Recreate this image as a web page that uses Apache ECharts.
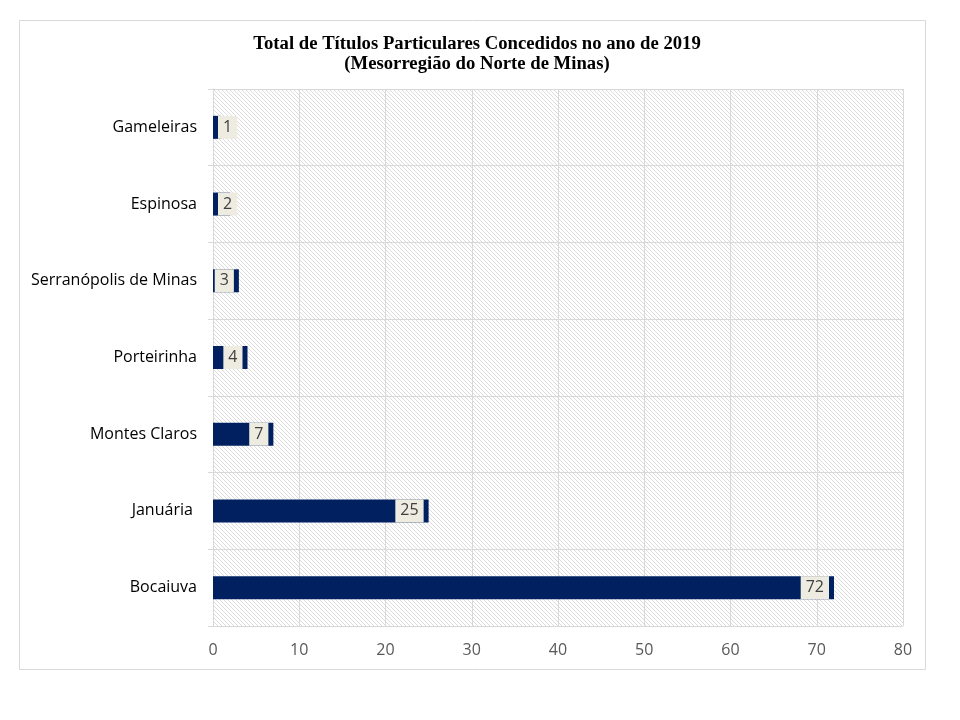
<!DOCTYPE html>
<html>
<head>
<meta charset="utf-8">
<script src="https://cdn.jsdelivr.net/npm/echarts@6/dist/echarts.min.js"></script>
<style>html,body{margin:0;padding:0;background:#fff;}#c{width:960px;height:720px;}</style>
</head>
<body>
<div id="c"></div>
<script>
var titleText = 'Total de Títulos Particulares Concedidos no ano de 2019\n(Mesorregião do Norte de Minas)';
var categories = ['Bocaiuva', 'Januária ', 'Montes Claros', 'Porteirinha', 'Serranópolis de Minas', 'Espinosa', 'Gameleiras'];
var values = [72, 25, 7, 4, 3, 2, 1];
var xTicks = [0, 10, 20, 30, 40, 50, 60, 70, 80];

// hatch pattern
var pc = document.createElement('canvas');
pc.width = 4; pc.height = 4;
var pctx = pc.getContext('2d');
pctx.fillStyle = '#ffffff';
pctx.fillRect(0, 0, 4, 4);
pctx.fillStyle = '#dcdcdc';
for (var i = 0; i < 4; i++) { pctx.fillRect(i, i, 1, 1); }

var chart = echarts.init(document.getElementById('c'), null, {renderer: 'canvas'});
var data = values.map(function (v) {
  return {
    value: v,
    label: v <= 2 ? {position: 'insideLeft', distance: 5} : {position: 'insideRight', distance: 5}
  };
});
chart.setOption({
  animation: false,
  backgroundColor: '#ffffff',
  graphic: [{
    type: 'rect', shape: {x: 19.5, y: 20.5, width: 906, height: 649},
    style: {fill: null, stroke: '#d9d9d9', lineWidth: 1}, silent: true, z: 0
  }],
  title: {
    text: titleText,
    left: 472, top: 29, textAlign: 'center',
    textStyle: {fontFamily: 'Liberation Serif', fontWeight: 'bold', fontSize: 18.7, lineHeight: 20, color: '#000'}
  },
  grid: {
    left: 213, right: 57, top: 89, bottom: 94,
    show: true, borderWidth: 0,
    backgroundColor: {image: pc, repeat: 'repeat'}
  },
  xAxis: {
    type: 'value', min: 0, max: 80, interval: 10,
    axisLine: {show: false}, axisTick: {show: false},
    splitLine: {show: true, lineStyle: {color: '#d9d9d9', width: 1}},
    axisLabel: {color: '#595959', fontSize: 16, fontFamily: 'Open Sans', margin: 16,
      formatter: function (v) { return xTicks.indexOf(v) >= 0 ? String(v) : ''; }}
  },
  yAxis: {
    type: 'category', data: categories,
    axisLine: {show: true, lineStyle: {color: '#d9d9d9'}},
    axisTick: {show: true, length: 5, lineStyle: {color: '#d9d9d9'}},
    splitLine: {show: true, lineStyle: {color: '#d9d9d9', width: 1}},
    axisLabel: {color: '#000', fontSize: 16, fontFamily: 'Open Sans', margin: 16}
  },
  series: [{
    type: 'bar', data: data, barWidth: 23,
    itemStyle: {color: '#002060'},
    label: {
      show: true, color: '#404040', fontSize: 16, fontFamily: 'Open Sans',
      backgroundColor: '#eeece1', padding: [4, 5, 3, 5]
    }
  }]
});
</script>
</body>
</html>
